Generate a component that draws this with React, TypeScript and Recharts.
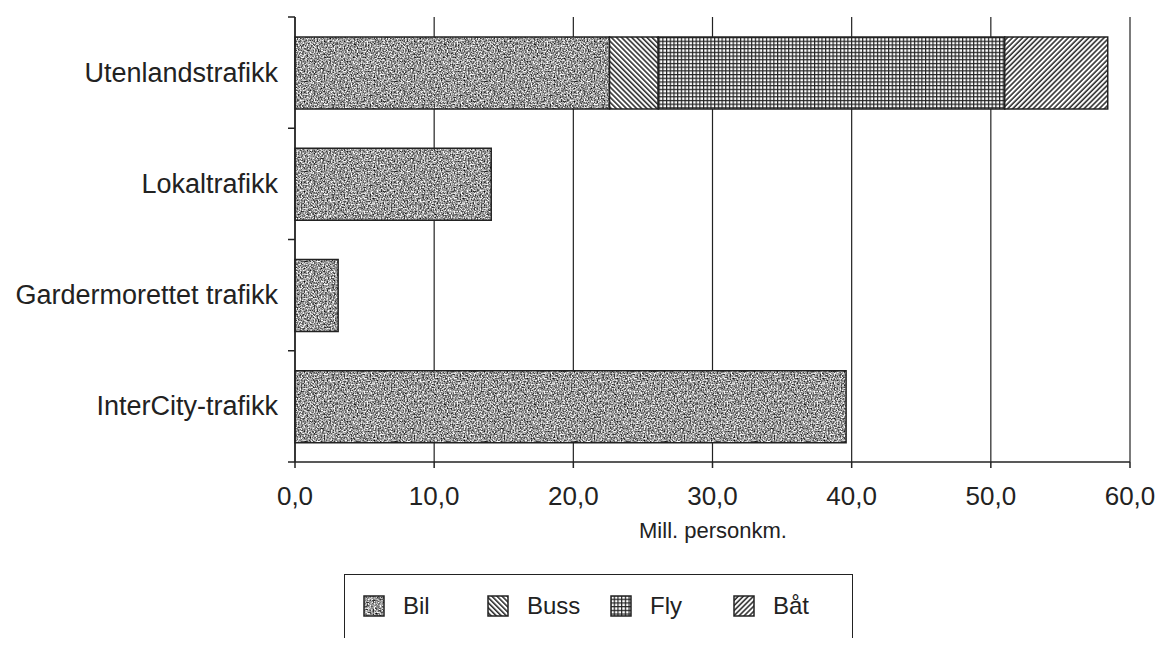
import React from 'react';
import { BarChart, Bar, XAxis, YAxis, CartesianGrid, Label } from 'recharts';

const categories = ['Utenlandstrafikk', 'Lokaltrafikk', 'Gardermorettet trafikk', 'InterCity-trafikk'];
const bil = [22.6, 14.1, 3.1, 39.6];
const buss = [3.5, 0, 0, 0];
const fly = [24.9, 0, 0, 0];
const baat = [7.4, 0, 0, 0];
const xTicks = [0, 10, 20, 30, 40, 50, 60];

const series = [
    { key: 'bil', name: 'Bil', fill: 'url(#pat-bil)' },
    { key: 'buss', name: 'Buss', fill: 'url(#pat-buss)' },
    { key: 'fly', name: 'Fly', fill: 'url(#pat-fly)' },
    { key: 'baat', name: 'Båt', fill: 'url(#pat-baat)' },
];

const data = categories.map((name, i) => ({
    name,
    bil: bil[i],
    buss: buss[i],
    fly: fly[i],
    baat: baat[i],
}));

const FONT = '"Liberation Sans", Arial, Helvetica, sans-serif';
const TOP = 17;
const BOTTOM = 462;
const BAND = (BOTTOM - TOP) / categories.length;

function Patterns() {
    return (
        <defs>
            <filter id="noise" x="0" y="0" width="100%" height="100%" colorInterpolationFilters="sRGB">
                <feTurbulence type="fractalNoise" baseFrequency="0.7" numOctaves="2" seed="3" />
                <feColorMatrix
                    type="matrix"
                    values="1.8 0 0 0 -0.3  1.8 0 0 0 -0.3  1.8 0 0 0 -0.3  0 0 0 0 1"
                />
            </filter>
            <pattern id="pat-bil" patternUnits="userSpaceOnUse" width="90" height="90">
                <rect width="90" height="90" fill="#8a8a8a" />
                <rect width="90" height="90" filter="url(#noise)" />
            </pattern>
            <pattern id="pat-buss" patternUnits="userSpaceOnUse" width="3.6" height="3.6" patternTransform="rotate(45)">
                <rect width="3.6" height="3.6" fill="#fff" />
                <line x1="0" y1="1" x2="3.6" y2="1" stroke="#222" strokeWidth="1.5" />
            </pattern>
            <pattern id="pat-fly" patternUnits="userSpaceOnUse" width="3.7" height="3.7">
                <rect width="3.7" height="3.7" fill="#fff" />
                <line x1="0" y1="0.6" x2="3.7" y2="0.6" stroke="#222" strokeWidth="1.2" />
                <line x1="0.6" y1="0" x2="0.6" y2="3.7" stroke="#222" strokeWidth="1.2" />
            </pattern>
            <pattern id="pat-baat" patternUnits="userSpaceOnUse" width="3.6" height="3.6" patternTransform="rotate(-45)">
                <rect width="3.6" height="3.6" fill="#fff" />
                <line x1="0" y1="1" x2="3.6" y2="1" stroke="#222" strokeWidth="1.5" />
            </pattern>
        </defs>
    );
}

// category label plus the small tick marks between the bands
const YTick = (props: any) => {
    const { y, payload, index } = props;
    return (
        <g>
            <text x={278} y={y} textAnchor="end" dominantBaseline="central" fontFamily={FONT} fontSize={27} fill="#222">
                {payload.value}
            </text>
            <line x1={288} x2={295} y1={y - BAND / 2} y2={y - BAND / 2} stroke="#222" strokeWidth={1.5} />
            {index === categories.length - 1 && (
                <line x1={288} x2={295} y1={y + BAND / 2} y2={y + BAND / 2} stroke="#222" strokeWidth={1.5} />
            )}
        </g>
    );
};

export default function App() {
    return (
        <div style={{ position: 'relative', width: 1165, height: 646, margin: -8, overflow: 'hidden', background: '#fff' }}>
            <BarChart
                width={1165}
                height={646}
                data={data}
                layout="vertical"
                margin={{ top: TOP, right: 35, bottom: 0, left: 0 }}
                barSize={72}
            >
                <Patterns />
                <CartesianGrid horizontal={false} stroke="#222" strokeWidth={1.2} />
                <XAxis
                    type="number"
                    domain={[0, 60]}
                    ticks={xTicks}
                    height={646 - BOTTOM}
                    tickFormatter={(v: number) => v.toFixed(1).replace('.', ',')}
                    tick={{ fontFamily: FONT, fontSize: 26, fill: '#222' }}
                    tickSize={6}
                    tickMargin={19}
                    axisLine={{ stroke: '#222', strokeWidth: 1.5 }}
                    tickLine={{ stroke: '#222', strokeWidth: 1.5 }}
                >
                    <Label
                        content={() => (
                            <text x={713} y={538} textAnchor="middle" fontFamily={FONT} fontSize={22} fill="#222">
                                Mill. personkm.
                            </text>
                        )}
                    />
                </XAxis>
                <YAxis
                    type="category"
                    dataKey="name"
                    width={295}
                    tick={<YTick />}
                    tickLine={false}
                    axisLine={{ stroke: '#222', strokeWidth: 1.5 }}
                    interval={0}
                />
                {series.map((s) => (
                    <Bar
                        key={s.key}
                        dataKey={s.key}
                        name={s.name}
                        stackId="a"
                        fill={s.fill}
                        stroke="#222"
                        strokeWidth={1.5}
                        isAnimationActive={false}
                    />
                ))}
            </BarChart>
            <div
                style={{
                    position: 'absolute',
                    left: 344,
                    top: 574,
                    width: 509,
                    height: 100,
                    border: '1.5px solid #222',
                    boxSizing: 'border-box',
                    fontFamily: FONT,
                    fontSize: 24,
                    color: '#222',
                }}
            >
                {series.map((s, i) => {
                    const left = [18, 142, 265, 388][i];
                    return (
                        <div key={s.key} style={{ position: 'absolute', left, top: 17, display: 'flex', alignItems: 'center' }}>
                            <svg width={22} height={22} style={{ marginRight: 18 }}>
                                <rect x={1} y={1} width={20} height={20} fill={s.fill} stroke="#222" strokeWidth={1.5} />
                            </svg>
                            <span>{s.name}</span>
                        </div>
                    );
                })}
            </div>
        </div>
    );
}
